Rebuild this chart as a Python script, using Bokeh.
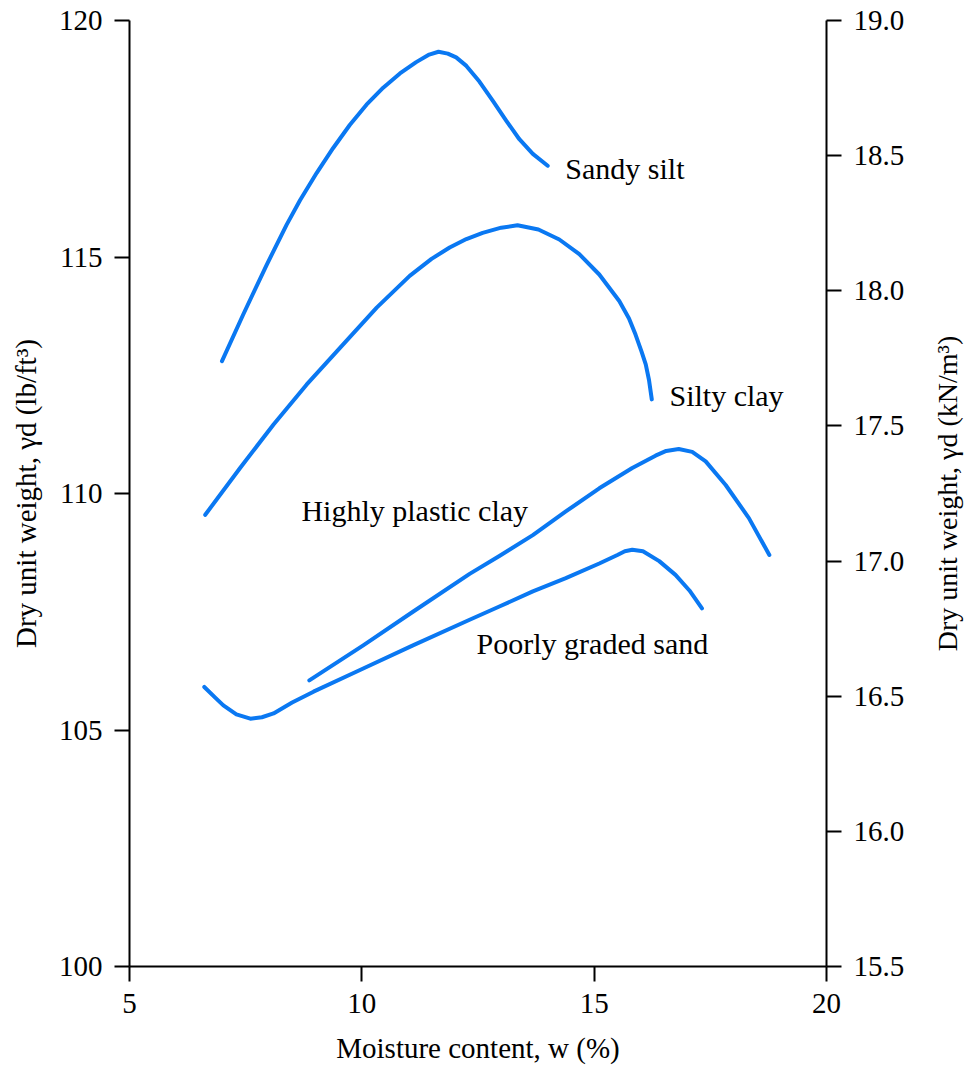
import math
from bokeh.plotting import figure
from bokeh.layouts import row
from bokeh.models import (Range1d, LinearAxis, FixedTicker, PrintfTickFormatter,
                          ColumnDataSource)
from bokeh.core.properties import value
from bokeh.embed import file_html
from bokeh.resources import INLINE

# ---- data ----
sandy_silt_w = [6.99, 7.45, 7.95, 8.38, 8.67, 9.03, 9.38, 9.74, 10.10, 10.46, 10.82,
                11.17, 11.45, 11.65, 11.85, 12.03, 12.25, 12.53, 12.82, 13.11, 13.39,
                13.68, 14.00]
sandy_silt_g = [112.80, 113.79, 114.83, 115.68, 116.20, 116.78, 117.30, 117.79, 118.22,
                118.58, 118.88, 119.12, 119.28, 119.34, 119.30, 119.22, 119.04, 118.71,
                118.30, 117.88, 117.49, 117.18, 116.93]

silty_clay_w = [6.63, 7.38, 8.10, 8.81, 9.53, 10.32, 11.03, 11.50, 11.89, 12.25, 12.60,
                13.00, 13.35, 13.80, 14.25, 14.68, 15.11, 15.54, 15.75, 15.89, 16.02,
                16.11, 16.18, 16.24]
silty_clay_g = [109.55, 110.54, 111.46, 112.30, 113.08, 113.93, 114.60, 114.96, 115.20,
                115.38, 115.51, 115.62, 115.67, 115.58, 115.37, 115.06, 114.63, 114.07,
                113.70, 113.36, 113.00, 112.73, 112.40, 111.99]

hp_clay_w = [8.87, 10.03, 11.10, 12.32, 12.96, 13.68, 14.39, 15.11, 15.82, 16.32, 16.55,
             16.82, 17.11, 17.40, 17.83, 18.33, 18.77]
hp_clay_g = [106.05, 106.79, 107.50, 108.30, 108.68, 109.12, 109.62, 110.11, 110.54,
             110.80, 110.90, 110.94, 110.88, 110.68, 110.18, 109.48, 108.70]

pg_sand_w = [6.61, 6.85, 7.02, 7.30, 7.60, 7.85, 8.10, 8.50, 8.96, 10.03, 11.10, 12.32,
             12.96, 13.68, 14.39, 15.11, 15.50, 15.66, 15.82, 16.05, 16.40, 16.75, 17.05,
             17.32]
pg_sand_g = [105.91, 105.68, 105.52, 105.33, 105.24, 105.27, 105.35, 105.58, 105.81,
             106.30, 106.79, 107.33, 107.61, 107.93, 108.21, 108.52, 108.70, 108.78,
             108.81, 108.78, 108.57, 108.28, 107.95, 107.57]

curve_names = ["Sandy silt", "Silty clay", "Highly plastic clay", "Poorly graded sand"]
label_w = [14.38, 16.62, 8.70, 12.47]
label_g = [116.87, 112.07, 109.64, 106.83]

x_ticks = [5, 10, 15, 20]
y_ticks = [100, 105, 110, 115, 120]
y2_ticks = [15.5, 16.0, 16.5, 17.0, 17.5, 18.0, 18.5, 19.0]

left_title = "Dry unit weight, γd (lb/ft³)"
right_title = "Dry unit weight, γd (kN/m³)"
x_title = "Moisture content, w (%)"

FONT = "Liberation Serif"
BLUE = "#0a78f2"

p = figure(width=928, height=1066, output_backend="svg", toolbar_location=None,
           x_range=Range1d(5, 20), y_range=Range1d(100, 120),
           min_border_left=129, min_border_right=102, min_border_top=20, min_border_bottom=100)
p.outline_line_color = None
p.xgrid.visible = False
p.ygrid.visible = False
p.background_fill_color = "white"

p.extra_y_ranges = {"kn": Range1d(15.5, 19.0)}
right_axis = LinearAxis(y_range_name="kn")
p.add_layout(right_axis, "right")

for ax in [p.xaxis[0], p.yaxis[0], right_axis]:
    ax.axis_line_width = 2
    ax.axis_line_color = "black"
    ax.major_tick_line_width = 2
    ax.major_tick_line_color = "black"
    ax.major_tick_out = 15
    ax.major_tick_in = 0
    ax.minor_tick_line_color = None
    ax.major_label_text_font = FONT
    ax.major_label_text_font_size = "29px"
    ax.major_label_text_color = "black"
    ax.major_label_standoff = 12
    ax.axis_label_text_font = FONT
    ax.axis_label_text_font_size = "29px"
    ax.axis_label_text_font_style = "normal"
    ax.axis_label_text_color = "black"

p.xaxis[0].ticker = FixedTicker(ticks=x_ticks)
p.yaxis[0].ticker = FixedTicker(ticks=y_ticks)
right_axis.ticker = FixedTicker(ticks=y2_ticks)
right_axis.formatter = PrintfTickFormatter(format="%.1f")

p.xaxis[0].axis_label = x_title
p.xaxis[0].axis_label_standoff = 16
p.yaxis[0].axis_label = left_title
p.yaxis[0].axis_label_standoff = 14

for xs, ys in [(sandy_silt_w, sandy_silt_g), (silty_clay_w, silty_clay_g),
               (hp_clay_w, hp_clay_g), (pg_sand_w, pg_sand_g)]:
    p.line(xs, ys, line_color=BLUE, line_width=4, line_cap="round", line_join="round")

src = ColumnDataSource(dict(x=label_w, y=label_g, t=curve_names))
p.text(x="x", y="y", text="t", source=src, text_font=value(FONT),
       text_font_size="30px", text_align="left", text_baseline="middle", text_color="black")

# narrow strip holding the right-hand axis title (reads bottom to top)
p2 = figure(width=37, height=1066, output_backend="svg", toolbar_location=None,
            x_range=Range1d(0, 1), y_range=Range1d(15.5, 19.0),
            min_border_left=0, min_border_right=0, min_border_top=20, min_border_bottom=100)
p2.axis.visible = False
p2.grid.visible = False
p2.outline_line_color = None
p2.text(x=[0.5], y=[17.25], text=[right_title], angle=math.pi / 2,
        text_font=value(FONT), text_font_size="28px", text_align="center",
        text_baseline="middle", text_color="black")

open("out.html", "w").write(file_html(row(p, p2), INLINE))
